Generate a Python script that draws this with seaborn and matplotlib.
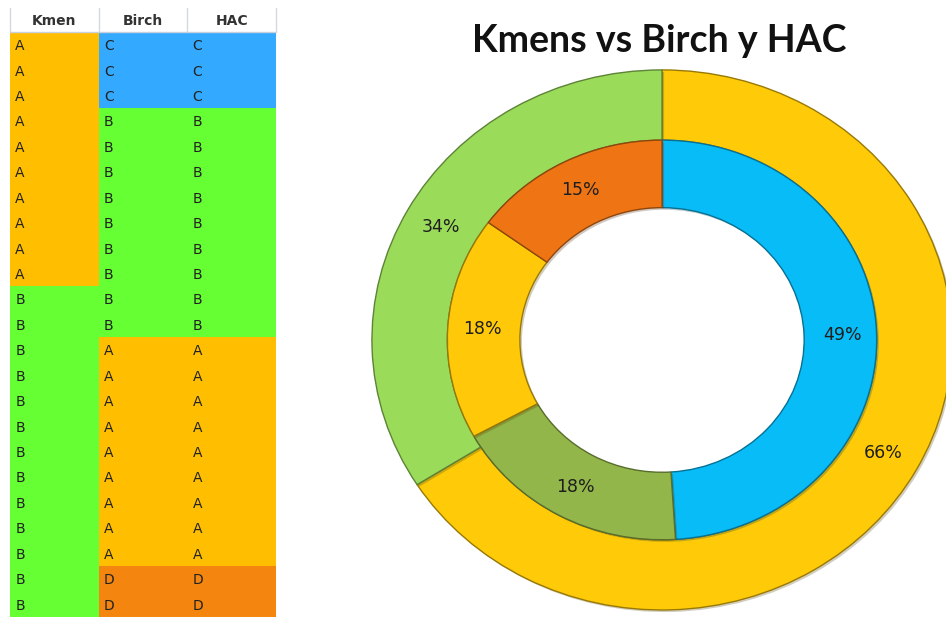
import numpy as np
import pandas as pd
import matplotlib
matplotlib.use('Agg')
import matplotlib.pyplot as plt
import matplotlib.patheffects as pe
from matplotlib.colors import ListedColormap, to_rgb
import seaborn as sns

# table on the left (one letter per row)
kmen = ['A', 'A', 'A', 'A', 'A', 'A', 'A', 'A', 'A', 'A',
        'B', 'B', 'B', 'B', 'B', 'B', 'B', 'B', 'B', 'B', 'B', 'B', 'B']
birch = ['C', 'C', 'C', 'B', 'B', 'B', 'B', 'B', 'B', 'B', 'B', 'B',
         'A', 'A', 'A', 'A', 'A', 'A', 'A', 'A', 'A', 'D', 'D']
hac = ['C', 'C', 'C', 'B', 'B', 'B', 'B', 'B', 'B', 'B', 'B', 'B',
       'A', 'A', 'A', 'A', 'A', 'A', 'A', 'A', 'A', 'D', 'D']
letters = ['A', 'B', 'C', 'D']
cell_colors = ['#FFBF00', '#66FF33', '#33AAFF', '#F4860F']

# donut values
outer_pct = [66, 34]
outer_colors = ['#FFCA08', '#9BDB5A']
inner_pct = [49, 18, 18, 15]
inner_colors = ['#08BCF7', '#93B64A', '#FFC90A', '#EF7514']
title = 'Kmens vs Birch y HAC'

sns.set_theme(style='white')
plt.rcParams['font.family'] = ['DejaVu Sans']

fig = plt.figure(figsize=(9.46, 6.17), dpi=100)

# table drawn as a categorical heatmap
df = pd.DataFrame({'Kmen': kmen, 'Birch': birch, 'HAC': hac})
codes = df.apply(lambda c: c.map({l: i for i, l in enumerate(letters)}))

ax = fig.add_axes([10/946, 0, 266/946, 609/617])
sns.heatmap(codes, cmap=ListedColormap(cell_colors), vmin=-0.5, vmax=3.5,
            cbar=False, xticklabels=False, yticklabels=False, ax=ax)
ax.set_ylim(len(df), -0.95)
for j, col in enumerate(df.columns):
    ax.text(j + 0.5, -0.45, col, ha='center', va='center', fontsize=10,
            fontweight='bold', color='#333333')
    for i, v in enumerate(df[col]):
        ax.text(j + 0.06, i + 0.55, v, ha='left', va='center', fontsize=10,
                color='#222222')
for x in range(4):
    ax.plot([x, x], [-0.95, 0], color='#D4D8E0', lw=1, clip_on=False)
ax.plot([0, 3], [0, 0], color='#C8D0DC', lw=1)


def darker(c, f=0.6):
    return tuple(v * f for v in to_rgb(c))


# double donut
ax2 = fig.add_axes([300/946, 0, 646/946, 1])
shadow = [pe.SimplePatchShadow(offset=(1.5, -1.5), alpha=0.25), pe.Normal()]
w1, _, t1 = ax2.pie(outer_pct, radius=1, colors=outer_colors, startangle=90,
                    counterclock=False, autopct='%.0f%%', pctdistance=0.87,
                    wedgeprops=dict(width=0.26, linewidth=1.0),
                    textprops=dict(fontsize=12.5, color='#1e1e1e'))
w2, _, t2 = ax2.pie(inner_pct, radius=0.74, colors=inner_colors, startangle=90,
                    counterclock=False, autopct='%.0f%%', pctdistance=0.84,
                    wedgeprops=dict(width=0.25, linewidth=1.0),
                    textprops=dict(fontsize=12.5, color='#1e1e1e'))
for w in w1 + w2:
    w.set_edgecolor(darker(w.get_facecolor()))
    w.set_path_effects(shadow)
ax2.set_aspect('auto')
ax2.set_xlim(-1.248, 0.979)
ax2.set_ylim(-1.026, 1.259)
ax2.axis('off')

fig.text(659/946, 1 - 52/617, title, ha='center', va='baseline', fontsize=27,
         fontweight='bold', family='Lato', color='#111111')

fig.savefig('out.png', dpi=100, facecolor='white')
